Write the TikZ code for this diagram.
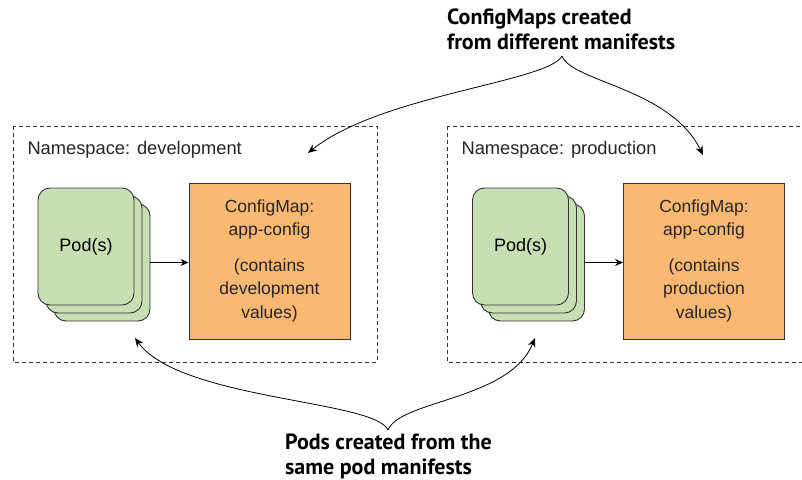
\documentclass[tikz,border=0pt]{standalone}
\usepackage{fontspec}
\setmainfont{Liberation Sans}
\newfontfamily\labelfont{PT Sans}
\usetikzlibrary{arrows.meta}
\definecolor{podgreen}{HTML}{C6E0B4}
\definecolor{cmorange}{HTML}{FAB872}
\definecolor{edge}{HTML}{333333}
\tikzset{
  nsbox/.style={draw=edge, dashed, dash pattern=on 4pt off 3pt, line width=0.9pt},
  podcard/.style={draw=edge, fill=podgreen, rounded corners=12pt, line width=0.9pt,
    minimum width=96pt, minimum height=117pt, inner sep=0pt},
  cmbox/.style={draw=edge, fill=cmorange, line width=0.9pt, minimum width=161pt,
    minimum height=156pt, inner sep=0pt},
  cmtext/.style={font=\fontsize{17.5}{23.5}\selectfont, align=center, text=black!85},
  nstext/.style={font=\fontsize{18.3}{22}\selectfont, anchor=west, text=black!85},
  bigtext/.style={font=\labelfont\bfseries\fontsize{22}{24.5}\selectfont, align=left, anchor=north west, inner sep=0pt},
  link/.style={draw=black, line width=0.8pt, -{Stealth[length=8pt,width=7pt]}},
  curve/.style={draw=black, line width=0.8pt, -{Stealth[length=9pt,width=7.5pt]}}
}
\begin{document}
\begin{tikzpicture}[x=1pt,y=-1pt]
\useasboundingbox (0,0) rectangle (802,479);
\clip (0,0) rectangle (802,479);
\fill[white] (0,0) rectangle (802,479);
% namespace boxes
\draw[nsbox] (13,126) rectangle (377,362);
\draw[nsbox] (447,126) rectangle (811,362);
\node[nstext] (nsdev) at (24,150) {Namespace: development};
\node[nstext] (nsprod) at (458,150) {Namespace: production};
% dev pods
\node[podcard] (dp3) at (102,262.5) {};
\node[podcard] (dp2) at (94,254.5) {};
\node[podcard, font=\fontsize{18}{22}\selectfont] (dp1) at (86,246.5) {Pod(s)};
\node[cmbox] (dcm) at (269.5,261) {};
\node[cmtext] at (269.5,219.5) {ConfigMap:\\app-config};
\node[cmtext] at (269.5,290) {(contains\\development\\values)};
\draw[link] (dp3.east) -- (dp3.east -| dcm.west);
% prod pods
\node[podcard] (pp3) at (536.5,262.5) {};
\node[podcard] (pp2) at (528.5,254.5) {};
\node[podcard, font=\fontsize{18}{22}\selectfont] (pp1) at (520.5,246.5) {Pod(s)};
\node[cmbox] (pcm) at (704,261) {};
\node[cmtext] at (704,219.5) {ConfigMap:\\app-config};
\node[cmtext] at (704,290) {(contains\\production\\values)};
\draw[link] (pp3.east) -- (pp3.east -| pcm.west);
% labels
\node[bigtext] (top) at (447,9) {ConfigMaps created\\from different manifests};
\node[bigtext] (bot) at (285,434) {Pods created from the\\same pod manifests};
\coordinate (toptip) at (562,56);
\coordinate (bottip) at (388,430);
\coordinate (tl) at (308,153);
\coordinate (tr) at (703,155);
\coordinate (bl) at (135,338);
\coordinate (br) at (535,338);
\draw[curve] (toptip) .. controls (548,82) and (380,95) .. (tl);
\draw[curve] (toptip) .. controls (572,82) and (670,88) .. (tr);
\draw[curve] (bottip) .. controls (375,400) and (180,400) .. (bl);
\draw[curve] (bottip) .. controls (400,400) and (510,400) .. (br);
\end{tikzpicture}
\end{document}
